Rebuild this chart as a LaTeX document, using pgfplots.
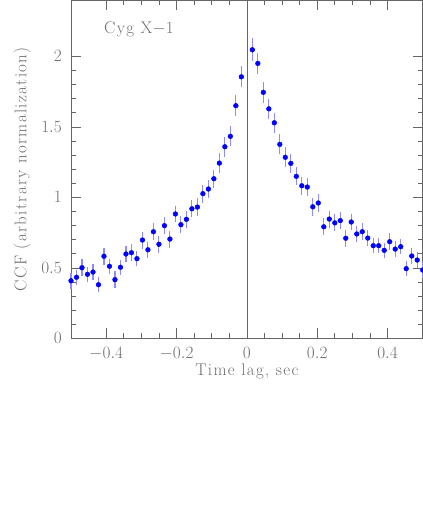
\documentclass[border=0pt]{standalone}
\usepackage{fontspec}
\setmainfont{Latin Modern Roman}
\newfontfamily\labelfont{Latin Modern Roman}[LetterSpace=8]
\usepackage{pgfplots}
\pgfplotsset{compat=1.18}
\usepackage{pgfplotstable}

\definecolor{axgray}{HTML}{666666}
\definecolor{txtgray}{HTML}{6E6E6E}
\definecolor{errblue}{HTML}{8C8CFF}

% lag (s), CCF, error
\pgfplotstableread{
x y e
-0.5 0.408 0.055
-0.484375 0.433 0.055
-0.46875 0.501 0.06
-0.453125 0.454 0.055
-0.4375 0.470 0.055
-0.421875 0.380 0.055
-0.40625 0.582 0.06
-0.390625 0.511 0.055
-0.375 0.416 0.06
-0.359375 0.504 0.055
-0.34375 0.598 0.055
-0.328125 0.607 0.06
-0.3125 0.565 0.055
-0.296875 0.697 0.06
-0.28125 0.628 0.055
-0.265625 0.756 0.06
-0.25 0.667 0.06
-0.234375 0.799 0.06
-0.21875 0.704 0.06
-0.203125 0.882 0.06
-0.1875 0.806 0.06
-0.171875 0.844 0.06
-0.15625 0.919 0.06
-0.140625 0.931 0.065
-0.125 1.026 0.065
-0.109375 1.059 0.065
-0.09375 1.132 0.065
-0.078125 1.243 0.07
-0.0625 1.359 0.07
-0.046875 1.433 0.07
-0.03125 1.650 0.075
-0.015625 1.855 0.075
0.015625 2.047 0.08
0.03125 1.950 0.075
0.046875 1.745 0.075
0.0625 1.628 0.07
0.078125 1.529 0.07
0.09375 1.376 0.07
0.109375 1.284 0.07
0.125 1.241 0.065
0.140625 1.149 0.065
0.15625 1.082 0.065
0.171875 1.073 0.065
0.1875 0.933 0.065
0.203125 0.960 0.065
0.21875 0.791 0.06
0.234375 0.846 0.06
0.25 0.819 0.06
0.265625 0.835 0.06
0.28125 0.710 0.06
0.296875 0.825 0.06
0.3125 0.740 0.06
0.328125 0.756 0.06
0.34375 0.711 0.055
0.359375 0.657 0.055
0.375 0.657 0.055
0.390625 0.624 0.055
0.40625 0.685 0.06
0.421875 0.633 0.055
0.4375 0.650 0.055
0.453125 0.494 0.055
0.46875 0.584 0.055
0.484375 0.555 0.055
0.5 0.484 0.055
}\ccfdata

\begin{document}
\begin{tikzpicture}
\useasboundingbox (0,0) rectangle (423bp,514bp);
\begin{axis}[
    at={(71bp,175.7bp)}, anchor=south west,
    scale only axis,
    width=351.7bp, height=338.3bp,
    xmin=-0.5, xmax=0.5,
    ymin=0, ymax=2.4,
    xtick={-0.4,-0.2,0,0.2,0.4},
    minor x tick num=3,
    ytick={0,0.5,1,1.5,2},
    minor y tick num=4,
    tick align=inside,
    major tick length=10bp,
    minor tick length=5bp,
    axis line style={axgray, line width=0.8bp},
    every tick/.style={axgray, line width=0.6bp},
    font=\fontsize{17}{20}\selectfont,
    tick label style={txtgray},
    yticklabel style={anchor=east, inner sep=0pt, xshift=-9bp},
    xticklabel style={anchor=north, inner sep=0pt, yshift=-9bp},
    xlabel={Time lag, sec},
    ylabel={CCF (arbitrary normalization)},
    label style={txtgray, font=\fontsize{17}{20}\labelfont},
    xlabel style={at={(axis description cs:0.5,-0.0967)}, anchor=center},
    ylabel style={at={(axis description cs:-0.139,0.5)}, anchor=center, rotate=0},
    clip=false,
]
\addplot[axgray, line width=0.6bp] coordinates {(0,0) (0,2.4)};
\addplot[only marks, mark=*, mark size=2.4bp, color=blue,
    error bars/.cd, y dir=both, y explicit,
    error mark=none,
    error bar style={errblue, line width=1.1bp}]
    table[x=x, y=y, y error=e] {\ccfdata};
\node[txtgray, anchor=center, font=\fontsize{17}{20}\labelfont] at (axis description cs:0.193,0.914) {Cyg X$-$1};
\end{axis}
\end{tikzpicture}
\end{document}
